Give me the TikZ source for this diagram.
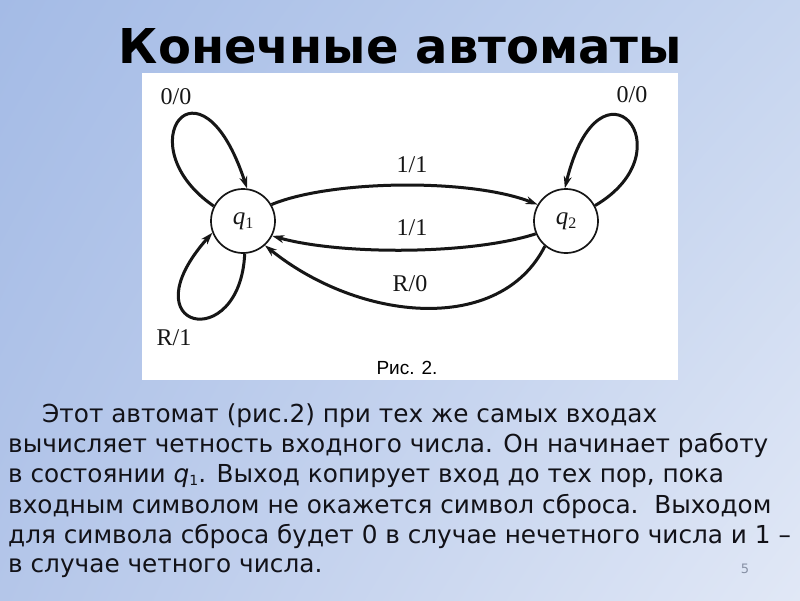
\documentclass[tikz,border=0pt]{standalone}
\usepackage{fontspec}
\usetikzlibrary{arrows.meta,shadings}
\setmainfont{DejaVu Sans}
\newfontfamily\titlefont{DejaVu Sans}
\newfontfamily\bodyfont{DejaVu Sans}
\newfontfamily\capfont{Liberation Sans}
\newfontfamily\scanfont{Liberation Serif}
\definecolor{ink}{RGB}{22,22,22}
\definecolor{txt}{RGB}{18,18,24}
\definecolor{bgUL}{RGB}{164,187,230}
\definecolor{bgUR}{RGB}{198,213,239}
\definecolor{bgLL}{RGB}{180,198,233}
\definecolor{bgLR}{RGB}{225,232,246}
\definecolor{pnum}{RGB}{135,145,165}
\tikzset{
  bodyline/.style={anchor=base west, inner sep=0pt, text=txt, font=\bodyfont\fontsize{24.75}{30}\selectfont},
  lbl/.style={inner sep=0pt, text=ink, font=\scanfont\fontsize{24}{24}\selectfont},
  stnode/.style={circle, draw=ink, line width=1.7pt, minimum size=64pt, inner sep=0pt, text=ink, font=\scanfont\itshape\fontsize{25}{25}\selectfont},
  trans/.style={draw=ink, line width=3pt, -{Stealth[length=12pt,width=8pt]}}
}
\begin{document}
\begin{tikzpicture}[x=1pt,y=-1pt]
\useasboundingbox (0,0) rectangle (800,600);
\shade[upper left=bgUL, upper right=bgUR, lower left=bgLL, lower right=bgLR] (0,0) rectangle (800,600);
% title
\node[anchor=base, inner sep=0pt, font=\titlefont\bfseries\fontsize{48}{48}\selectfont] (title) at (400.5,63) {Конечные автоматы};
% white picture box
\fill[white] (142,73) rectangle (678,380);
% states
\node[stnode] (q1) at (243,221) {q\raisebox{-4pt}{\fontsize{16}{16}\selectfont\upshape 1}};
\node[stnode] (q2) at (566,221) {q\raisebox{-4pt}{\fontsize{16}{16}\selectfont\upshape 2}};
% transitions
\draw[trans] (q1.30) .. controls (330,180) and (470,178) .. (q2.150);
\draw[trans] (q2.203) .. controls (470,255) and (340,255) .. (q1.333);
\draw[trans] (q2.230) .. controls (500,335) and (360,322) .. (q1.312);
\draw[trans] (q1.153) .. controls (125,145) and (200,45) .. (q1.83);
\draw[trans] (q1.273) .. controls (240,355) and (126,330) .. (q1.201);
\draw[trans] (q2.28) .. controls (690,150) and (600,45) .. (q2.92);
% labels
\node[lbl] (l00a) at (176,97) {0/0};
\node[lbl] (l00b) at (632,95) {0/0};
\node[lbl] (l11a) at (412,165) {1/1};
\node[lbl] (l11b) at (412,228) {1/1};
\node[lbl] (lr0) at (410,284) {R/0};
\node[lbl] (lr1) at (174,338) {R/1};
\node[anchor=base, inner sep=0pt, text=black, font=\capfont\fontsize{19}{19}\selectfont] (cap) at (407,374) {Рис. 2.};
% body text
\node[bodyline] (t1) at (42,422) {Этот автомат (рис.2) при тех же самых входах};
\node[bodyline] (t2) at (8,452) {вычисляет четность входного числа. Он начинает работу};
\node[bodyline] (t3) at (8,482) {в состоянии {\itshape q}\raisebox{-3pt}{\fontsize{14}{14}\selectfont 1}. Выход копирует вход до тех пор, пока};
\node[bodyline] (t4) at (8,513) {входным символом не окажется символ сброса.\ \ Выходом};
\node[bodyline] (t5) at (8,543) {для символа сброса будет 0 в случае нечетного числа и 1 –};
\node[bodyline] (t6) at (8,572) {в случае четного числа.};
\node[anchor=base, inner sep=0pt, text=pnum, font=\titlefont\fontsize{13}{13}\selectfont] (pn) at (745,573) {5};
\end{tikzpicture}
\end{document}
